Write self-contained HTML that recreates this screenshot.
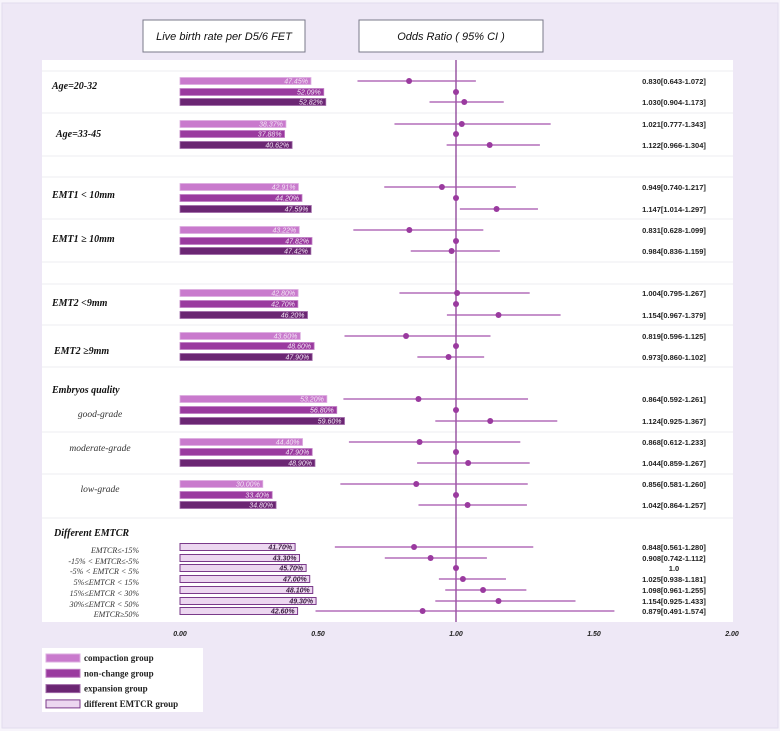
<!DOCTYPE html>
<html><head><meta charset="utf-8"><style>
html,body{margin:0;padding:0;background:#f1ecf7;}
svg{display:block;}
</style></head><body>
<svg id="chart" width="780" height="731" xmlns="http://www.w3.org/2000/svg">
<rect x="0" y="0" width="780" height="731" fill="#f7f4fb"/>
<rect x="2" y="3" width="776" height="725" fill="#eee8f6" stroke="#e2dcee"/>
<rect x="42" y="60" width="691" height="562" fill="#ffffff"/>
<rect x="143" y="20" width="162" height="32" fill="#fff" stroke="#7a7a8a"/>
<text x="224" y="40" text-anchor="middle" font-family="Liberation Sans, sans-serif" font-size="11" font-style="italic" fill="#111">Live birth rate per D5/6 FET</text>
<rect x="359" y="20" width="184" height="32" fill="#fff" stroke="#7a7a8a"/>
<text x="451" y="40" text-anchor="middle" font-family="Liberation Sans, sans-serif" font-size="11" font-style="italic" fill="#111">Odds Ratio ( 95% CI )</text>
<g id="grid"></g><g id="bars"></g><g id="forest"></g><g id="labels"></g><g id="axis"></g>
<rect x="42" y="648" width="161" height="64" fill="#fff"/>
<g id="legend"></g>
</svg>
<script>
const NS='http://www.w3.org/2000/svg';
// data
const rowY=[81,92,102,124,134,145,187,198,209,230,241,251,293,304,315,336,346,357,399,410,421,442,452,463,484,495,505,547,558,568,579,590,601,611];
const rates=[47.45,52.09,52.82,38.37,37.88,40.62,42.91,44.20,47.59,43.22,47.82,47.42,42.80,42.70,46.20,43.60,48.60,47.90,53.20,56.80,59.60,44.40,47.90,48.90,30.00,33.40,34.80,41.70,43.30,45.70,47.00,48.10,49.30,42.60];
const groups=[0,1,2,0,1,2,0,1,2,0,1,2,0,1,2,0,1,2,0,1,2,0,1,2,0,1,2,3,3,3,3,3,3,3];
const orVal=[0.830,1,1.030,1.021,1,1.122,0.949,1,1.147,0.831,1,0.984,1.004,1,1.154,0.819,1,0.973,0.864,1,1.124,0.868,1,1.044,0.856,1,1.042,0.848,0.908,1,1.025,1.098,1.154,0.879];
const orLo=[0.643,null,0.904,0.777,null,0.966,0.740,null,1.014,0.628,null,0.836,0.795,null,0.967,0.596,null,0.860,0.592,null,0.925,0.612,null,0.859,0.581,null,0.864,0.561,0.742,null,0.938,0.961,0.925,0.491];
const orHi=[1.072,null,1.173,1.343,null,1.304,1.217,null,1.297,1.099,null,1.159,1.267,null,1.379,1.125,null,1.102,1.261,null,1.367,1.233,null,1.267,1.260,null,1.257,1.280,1.112,null,1.181,1.255,1.433,1.574];
const orText=['0.830[0.643-1.072]','','1.030[0.904-1.173]','1.021[0.777-1.343]','','1.122[0.966-1.304]','0.949[0.740-1.217]','','1.147[1.014-1.297]','0.831[0.628-1.099]','','0.984[0.836-1.159]','1.004[0.795-1.267]','','1.154[0.967-1.379]','0.819[0.596-1.125]','','0.973[0.860-1.102]','0.864[0.592-1.261]','','1.124[0.925-1.367]','0.868[0.612-1.233]','','1.044[0.859-1.267]','0.856[0.581-1.260]','','1.042[0.864-1.257]','0.848[0.561-1.280]','0.908[0.742-1.112]','1.0','1.025[0.938-1.181]','1.098[0.961-1.255]','1.154[0.925-1.433]','0.879[0.491-1.574]'];
const ticks=[0,0.5,1,1.5,2];
const tickLabels=['0.00','0.50','1.00','1.50','2.00'];
const groupNames=['compaction group','non-change group','expansion group','different EMTCR group'];
const fills=['#c97acd','#9a3a9f','#6b2673','#ecd7f0'];
const strokes=['#dcaee0','#c07fc4','#a06aa8','#7a3a8a'];
const rowLabels=[['Age=20-32',86,52,'bi'],['Age=33-45',134,56,'bi'],['EMT1 < 10mm',195,52,'bi'],['EMT1 ≥ 10mm',239,52,'bi'],['EMT2 <9mm',303,52,'bi'],['EMT2 ≥9mm',351,54,'bi'],['Embryos quality',390,52,'bi'],['good-grade',414,100,'ic'],['moderate-grade',448,100,'ic'],['low-grade',489,100,'ic'],['Different EMTCR',533,54,'bi'],
['EMTCR≤-15%',550,139,'ir'],['-15% < EMTCR≤-5%',561,139,'ir'],['-5% < EMTCR < 5%',571,139,'ir'],['5%≤EMTCR < 15%',582,139,'ir'],['15%≤EMTCR < 30%',593,139,'ir'],['30%≤EMTCR < 50%',604,139,'ir'],['EMTCR≥50%',614,139,'ir']];
const gridY=[71,113,156,177,219,262,284,325,367,432,474,518];
const x=v=>180+v*276;
function mk(tag,attrs,parent,name,text){const e=document.createElementNS(NS,tag);for(const k in attrs)e.setAttribute(k,attrs[k]);


if(text!==undefined)e.textContent=text;document.getElementById(parent).appendChild(e);return e;}
gridY.forEach(y=>mk('line',{x1:42,x2:733,y1:y,y2:y,stroke:'#ececf0','stroke-width':1},'grid','grid-line'));
rates.forEach((r,i)=>{const g=groups[i];const y=rowY[i];const w=x(r/100)-x(0);
mk('rect',{x:x(0),y:y-3.5,width:w,height:7,fill:fills[g],stroke:strokes[g],'stroke-width':g==3?1:0.8},'bars','rate-bar');
mk('text',{x:x(r/100)-3,y:y+2.6,'text-anchor':'end','font-family':'Liberation Sans, sans-serif','font-size':7,'font-style':'italic','font-weight':g==3?'bold':'normal',fill:g==3?'#3a1a40':'#f3e6f5'},'bars','rate-label',r.toFixed(2)+'%');});
mk('line',{x1:x(1),x2:x(1),y1:60,y2:622,stroke:'#8a3f96','stroke-width':1.3},'forest','reference-line');
orVal.forEach((v,i)=>{const y=rowY[i];
if(orLo[i]!==null)mk('line',{x1:x(orLo[i]),x2:x(orHi[i]),y1:y,y2:y,stroke:'#a452ac','stroke-width':1.2},'forest','ci-line');
mk('circle',{cx:x(v),cy:y,r:3,fill:'#9a3a9f'},'forest','or-point');
if(orText[i])mk('text',{x:674,y:y+3,'text-anchor':'middle','font-family':'Liberation Sans, sans-serif','font-size':7.5,'font-weight':'bold',fill:'#222'},'labels','or-value',orText[i]);});
rowLabels.forEach(l=>{const t=l[3];
mk('text',{x:l[2],y:l[1]+3,'text-anchor':t=='bi'?'start':(t=='ic'?'middle':'end'),'font-family':'Liberation Serif, serif','font-size':t=='bi'?10:(t=='ic'?9.5:8),'font-style':'italic','font-weight':t=='bi'?'bold':'normal',fill:t=='bi'?'#111':'#333'},'labels','row-label',l[0]);});
ticks.forEach((v,i)=>mk('text',{x:x(v),y:636,'text-anchor':'middle','font-family':'Liberation Sans, sans-serif','font-size':7,'font-style':'italic','font-weight':'bold',fill:'#222'},'axis','tick-label',tickLabels[i]));
groupNames.forEach((n,i)=>{const y=658+i*15.3;
mk('rect',{x:46,y:y-4,width:34,height:8,fill:fills[i],stroke:strokes[i]},'legend','legend-swatch');
mk('text',{x:84,y:y+3,'font-family':'Liberation Serif, serif','font-size':9,'font-weight':'bold',fill:'#222'},'legend','legend-entry',n);});
</script>
</body></html>
